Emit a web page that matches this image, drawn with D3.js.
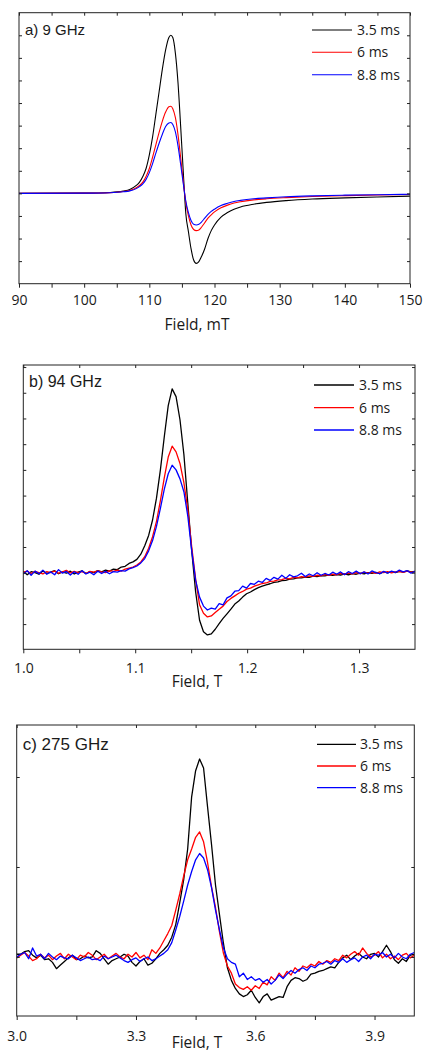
<!DOCTYPE html>
<html><head><meta charset="utf-8">
<script src="https://cdn.jsdelivr.net/npm/d3@7"></script>
<style>body{margin:0;background:#fff}svg{display:block}</style>
</head><body><svg id="chart" width="423" height="1052"></svg>
<script>
// ---------- DATA ----------
const seriesNames = ["3.5 ms", "6 ms", "8.8 ms"];

// a) 9 GHz  (field in mT)
const fieldA = [90,100,104,106,107,108,108.5,109,109.5,110,110.5,111,111.5,112,112.5,113,113.3,113.6,114,114.4,114.8,115.2,115.6,116,116.4,116.8,117.2,117.6,118,118.5,119,119.5,120,121,122,123,124,126,128,131,135,140,145,150];
const blackA = [0,0.01,0.04,0.1,0.17,0.35,0.5,0.75,1.1,1.7,2.5,3.5,4.5,5.5,6.35,6.9,7.0,6.9,6.2,4.9,3.0,1.0,-0.9,-1.7,-2.45,-2.95,-3.1,-3.02,-2.8,-2.45,-2.0,-1.65,-1.4,-1.05,-0.85,-0.7,-0.6,-0.48,-0.4,-0.32,-0.25,-0.2,-0.16,-0.12];
const redA   = [0,0.01,0.03,0.08,0.13,0.25,0.35,0.5,0.75,1.1,1.6,2.15,2.7,3.2,3.6,3.84,3.86,3.75,3.35,2.6,1.6,0.55,-0.4,-1.0,-1.4,-1.6,-1.65,-1.62,-1.5,-1.3,-1.1,-0.95,-0.82,-0.64,-0.52,-0.43,-0.37,-0.29,-0.24,-0.19,-0.14,-0.1,-0.07,-0.05];
const blueA  = [0,0.01,0.03,0.07,0.11,0.21,0.3,0.42,0.62,0.92,1.32,1.78,2.22,2.62,2.96,3.12,3.14,3.05,2.72,2.1,1.3,0.45,-0.35,-0.85,-1.2,-1.37,-1.4,-1.37,-1.27,-1.1,-0.93,-0.8,-0.7,-0.54,-0.44,-0.36,-0.31,-0.24,-0.2,-0.15,-0.11,-0.08,-0.06,-0.04];
const ticksA = [90,100,110,120,130,140,150];
const tickLabelsA = ["90","100","110","120","130","140","150"];
const minorTicksA = [95,105,115,125,135,145];

// b) 94 GHz  (field in T)
const fieldB = [1.0000,1.0035,1.0070,1.0105,1.0140,1.0175,1.0210,1.0245,1.0280,1.0315,
1.0350,1.0385,1.0420,1.0455,1.0490,1.0525,1.0560,1.0595,1.0630,1.0665,
1.0700,1.0735,1.0770,1.0805,1.0840,1.0875,1.0910,1.0945,1.0980,1.1015,
1.1050,1.1085,1.1120,1.1155,1.1190,1.1225,1.1260,1.1295,1.1330,1.1365,
1.1400,1.1435,1.1470,1.1505,1.1540,1.1575,1.1610,1.1645,1.1680,1.1715,
1.1750,1.1785,1.1820,1.1855,1.1890,1.1925,1.1960,1.1995,1.2030,1.2065,
1.2100,1.2135,1.2170,1.2205,1.2240,1.2275,1.2310,1.2345,1.2380,1.2415,
1.2450,1.2485,1.2520,1.2555,1.2590,1.2625,1.2660,1.2695,1.2730,1.2765,
1.2800,1.2835,1.2870,1.2905,1.2940,1.2975,1.3010,1.3045,1.3080,1.3115,
1.3150,1.3185,1.3220,1.3255,1.3290,1.3325,1.3360,1.3395,1.3430,1.3465,
1.3500];
const blackB = [0.05,-0.08,0.04,0.00,-0.06,0.07,-0.03,0.02,0.08,-0.04,
0.03,-0.02,0.06,-0.05,0.02,0.07,-0.03,0.04,0.00,0.08,
0.03,0.10,0.06,0.14,0.12,0.22,0.25,0.36,0.42,0.52,
0.72,1.05,1.45,2.05,2.90,4.00,5.30,6.50,7.15,6.85,
5.95,4.60,2.70,0.85,-0.75,-1.85,-2.30,-2.42,-2.38,-2.20,
-1.98,-1.78,-1.60,-1.42,-1.22,-1.10,-0.95,-0.82,-0.75,-0.66,
-0.58,-0.52,-0.47,-0.43,-0.38,-0.36,-0.31,-0.30,-0.25,-0.24,
-0.20,-0.20,-0.17,-0.18,-0.13,-0.15,-0.11,-0.12,-0.08,-0.10,
-0.07,-0.09,-0.05,-0.08,-0.04,-0.06,-0.02,-0.05,0.00,-0.03,
0.01,-0.04,0.03,-0.01,0.04,0.00,0.05,0.02,0.07,0.03,
0.05];
const redB = [0.02,0.06,-0.03,0.05,0.00,-0.05,0.04,0.00,0.06,-0.02,
0.03,0.09,-0.01,0.05,0.00,0.04,-0.03,0.05,0.02,0.07,
0.03,0.00,0.08,0.05,0.10,0.06,0.14,0.18,0.22,0.30,
0.42,0.62,0.95,1.40,2.00,2.80,3.70,4.50,4.92,4.70,
4.25,3.50,2.45,1.00,-0.25,-1.25,-1.58,-1.72,-1.68,-1.55,
-1.42,-1.30,-1.12,-1.00,-0.90,-0.80,-0.73,-0.64,-0.60,-0.52,
-0.47,-0.42,-0.40,-0.34,-0.33,-0.28,-0.27,-0.22,-0.24,-0.18,
-0.20,-0.15,-0.17,-0.12,-0.14,-0.10,-0.12,-0.07,-0.10,-0.06,
-0.08,-0.03,-0.06,-0.02,-0.05,0.00,-0.04,0.02,-0.02,0.01,
-0.03,0.03,0.00,0.04,-0.01,0.03,0.05,0.01,0.06,0.02,
0.03];
const blueB = [-0.05,0.08,-0.10,0.06,-0.04,0.10,-0.06,0.03,-0.08,0.12,
-0.02,0.05,-0.09,0.04,-0.06,0.08,-0.05,0.02,-0.08,0.06,
-0.03,0.05,-0.04,0.04,0.02,0.08,0.06,0.15,0.20,0.26,
0.38,0.55,0.85,1.25,1.80,2.50,3.25,3.85,4.18,4.00,
3.65,3.15,2.20,0.85,-0.30,-0.95,-1.30,-1.45,-1.38,-1.42,
-1.20,-1.25,-0.98,-0.90,-0.72,-0.70,-0.52,-0.60,-0.42,-0.45,
-0.33,-0.38,-0.22,-0.30,-0.18,-0.25,-0.10,-0.22,-0.08,-0.16,
-0.12,-0.02,-0.15,-0.05,-0.12,0.00,-0.10,-0.03,-0.09,0.02,
-0.06,0.03,-0.08,0.04,-0.03,0.06,-0.04,0.03,-0.05,0.07,
0.00,-0.04,0.05,-0.02,0.06,0.01,0.10,0.03,0.08,-0.02,
0.05];
const ticksB = [1.0,1.1,1.2,1.3];
const tickLabelsB = ["1.0","1.1","1.2","1.3"];
const minorTicksB = [1.05,1.15,1.25];

// c) 275 GHz  (field in T)
const fieldC = [3.00,3.01,3.02,3.03,3.04,3.05,3.06,3.07,3.08,3.09,
3.10,3.11,3.12,3.13,3.14,3.15,3.16,3.17,3.18,3.19,
3.20,3.21,3.22,3.23,3.24,3.25,3.26,3.27,3.28,3.29,
3.30,3.31,3.32,3.33,3.34,3.35,3.36,3.37,3.38,3.39,
3.40,3.41,3.42,3.43,3.44,3.45,3.46,3.47,3.48,3.49,
3.50,3.51,3.52,3.53,3.54,3.55,3.56,3.57,3.58,3.59,
3.60,3.61,3.62,3.63,3.64,3.65,3.66,3.67,3.68,3.69,
3.70,3.71,3.72,3.73,3.74,3.75,3.76,3.77,3.78,3.79,
3.80,3.81,3.82,3.83,3.84,3.85,3.86,3.87,3.88,3.89,
3.90,3.91,3.92,3.93,3.94,3.95,3.96,3.97,3.98,3.99,
4.00];
const blackC = [0.03,0.03,0.06,0.07,0.02,-0.01,0.02,-0.03,-0.02,-0.06,
-0.13,-0.09,-0.05,-0.01,0.02,-0.03,-0.02,0.01,-0.01,0.00,
0.07,0.04,-0.02,-0.08,-0.04,-0.02,0.00,0.03,0.01,-0.06,
-0.10,-0.05,-0.02,-0.09,-0.07,-0.02,0.04,0.08,0.13,0.22,
0.36,0.60,0.86,1.20,1.78,2.07,2.20,2.10,1.67,1.25,
0.80,0.47,0.15,-0.12,-0.26,-0.35,-0.41,-0.44,-0.42,-0.37,
-0.45,-0.51,-0.44,-0.41,-0.48,-0.46,-0.44,-0.45,-0.33,-0.26,
-0.23,-0.24,-0.27,-0.25,-0.19,-0.18,-0.16,-0.15,-0.13,-0.11,
-0.12,-0.06,-0.01,0.02,-0.03,0.01,0.04,0.00,-0.02,0.03,
0.04,0.00,0.06,0.13,0.06,-0.03,-0.07,-0.02,-0.05,0.02,
0.03];
const redC = [-0.01,0.02,0.05,0.01,-0.04,-0.02,0.03,-0.01,0.02,-0.03,
0.01,0.04,-0.02,0.03,0.00,-0.03,0.02,0.00,0.05,0.02,
-0.03,0.00,0.03,-0.02,0.01,0.04,0.00,-0.02,0.03,0.00,
0.05,-0.01,0.02,-0.03,0.08,0.04,0.10,0.18,0.26,0.35,
0.52,0.70,0.90,1.08,1.20,1.33,1.39,1.28,1.05,0.78,
0.55,0.28,0.04,-0.10,-0.18,-0.30,-0.34,-0.36,-0.33,-0.37,
-0.32,-0.35,-0.28,-0.31,-0.22,-0.26,-0.18,-0.23,-0.16,-0.20,
-0.12,-0.16,-0.10,-0.12,-0.08,-0.10,-0.05,-0.08,-0.04,-0.06,
-0.02,-0.04,0.02,-0.01,0.03,0.06,0.02,0.10,0.04,0.00,
0.02,0.06,-0.01,0.03,-0.02,0.01,-0.03,0.02,0.04,-0.01,
0.02];
const blueC = [0.00,0.03,0.05,-0.02,0.10,0.01,0.03,-0.02,0.04,0.00,
-0.03,0.01,-0.01,-0.02,0.02,-0.01,-0.04,-0.02,0.00,-0.03,
-0.02,-0.04,0.01,-0.02,0.00,0.02,-0.01,-0.04,-0.06,-0.03,
-0.01,-0.05,-0.02,0.00,-0.04,-0.02,0.01,0.04,0.08,0.16,
0.30,0.45,0.62,0.80,0.95,1.08,1.15,1.10,0.97,0.77,
0.52,0.30,0.10,-0.02,-0.06,-0.08,-0.22,-0.18,-0.25,-0.22,
-0.26,-0.24,-0.28,-0.25,-0.30,-0.26,-0.20,-0.24,-0.19,-0.15,
-0.18,-0.14,-0.12,-0.15,-0.10,-0.12,-0.08,-0.07,-0.05,-0.08,
-0.04,-0.06,-0.02,-0.06,-0.03,-0.01,-0.05,0.00,0.02,-0.02,
0.03,0.02,0.05,0.00,0.03,-0.01,0.04,0.00,-0.02,0.03,
0.05];
const ticksC = [3.0,3.3,3.6,3.9];
const tickLabelsC = ["3.0","3.3","3.6","3.9"];
const minorTicksC = [3.15,3.45,3.75];

// ---------- LAYOUT / STYLE ----------
const colors = ["#000000", "#ff0000", "#0000ff"];
const tickFont = "'Open Sans', sans-serif";
const titleFont = "'Liberation Sans', Arial, sans-serif";

const panels = [
  { field: fieldA, series: [blackA, redA, blueA], ticks: ticksA, labels: tickLabelsA, minor: minorTicksA,
    xDomain: [90, 150], yDomain: [-4, 8], yTicks: d3.range(-3, 8),
    left: 19, right: 410, top: 12.7, bottom: 283.7,
    title: "a) 9 GHz", titleX: 25, titleY: 35, titleSize: 15,
    legendX1: 312, legendX2: 352, legendY: [30, 52.3, 74.7], legendTextX: 357,
    tickLabelY: 305, axisTitle: "Field, mT", axisTitleY: 329.5, lineWidth: 1.1, curve: d3.curveMonotoneX },
  { field: fieldB, series: [blackB, redB, blueB], ticks: ticksB, labels: tickLabelsB, minor: minorTicksB,
    xDomain: [1.0, 1.35], yDomain: [-2.98, 8.08], yTicks: d3.range(-2, 9),
    left: 23.3, right: 415, top: 365, bottom: 649.3,
    title: "b) 94 GHz", titleX: 29, titleY: 386.5, titleSize: 16,
    legendX1: 314, legendX2: 354, legendY: [385, 407.7, 430], legendTextX: 359,
    tickLabelY: 673.5, axisTitle: "Field, T", axisTitleY: 686.5, lineWidth: 1.3, curve: d3.curveLinear },
  { field: fieldC, series: [blackC, redC, blueC], ticks: ticksC, labels: tickLabelsC, minor: minorTicksC,
    xDomain: [3.0, 4.0], yDomain: [-0.656, 2.578], yTicks: [0, 1, 2],
    left: 16.7, right: 414.3, top: 725, bottom: 1016,
    title: "c) 275 GHz", titleX: 22.7, titleY: 750, titleSize: 17,
    legendX1: 317, legendX2: 356, legendY: [744.3, 766, 787.7], legendTextX: 360,
    tickLabelY: 1040.7, axisTitle: "Field, T", axisTitleY: 1047.5, lineWidth: 1.3, curve: d3.curveLinear }
];

const svg = d3.select("#chart");
svg.append("rect").attr("width", 423).attr("height", 1052).attr("fill", "#fff");

panels.forEach((p, pi) => {
  const x = d3.scaleLinear().domain(p.xDomain).range([p.left, p.right]);
  const y = d3.scaleLinear().domain(p.yDomain).range([p.bottom, p.top]);
  const g = svg.append("g");

  const clipId = "clip" + pi;
  svg.append("clipPath").attr("id", clipId).append("rect")
    .attr("x", p.left).attr("y", p.top).attr("width", p.right - p.left).attr("height", p.bottom - p.top);

  // curves (drawn first: blue, red, black order like reference? black below colored)
  const line = d3.line().curve(p.curve).x(d => x(d[0])).y(d => y(d[1]));
  [0, 1, 2].forEach(si => {
    const pts = p.field.map((f, i) => [f, p.series[si][i]]);
    g.append("path").attr("d", line(pts)).attr("fill", "none")
      .attr("stroke", colors[si]).attr("stroke-width", p.lineWidth)
      .attr("stroke-linejoin", "round").attr("clip-path", `url(#${clipId})`);
  });

  // axes
  const styleAxis = sel => { sel.select(".domain").remove(); sel.selectAll("line").attr("stroke", "#222").attr("stroke-width", 1); };
  const allX = p.ticks.concat(p.minor);
  g.append("g").attr("transform", `translate(0,${p.bottom})`)
    .call(d3.axisBottom(x).tickValues(allX).tickSize(4).tickFormat(""))
    .call(styleAxis);
  g.append("g").attr("transform", `translate(0,${p.top})`)
    .call(d3.axisTop(x).tickValues(allX).tickSize(-3).tickFormat(""))
    .call(styleAxis);
  g.append("g").attr("transform", `translate(${p.left},0)`)
    .call(d3.axisLeft(y).tickValues(p.yTicks).tickSize(-3).tickFormat(""))
    .call(styleAxis);
  g.append("g").attr("transform", `translate(${p.right},0)`)
    .call(d3.axisRight(y).tickValues(p.yTicks).tickSize(-3).tickFormat(""))
    .call(styleAxis);

  // major tick labels
  const lab = g.append("g").attr("transform", `translate(0,${p.bottom})`)
    .call(d3.axisBottom(x).tickValues(p.ticks).tickSize(0).tickFormat((d, i) => p.labels[i]));
  lab.select(".domain").remove();
  lab.selectAll("text").attr("y", p.tickLabelY - p.bottom).attr("dy", null)
    .attr("font-family", tickFont).attr("font-size", 14).attr("fill", "#1a1a1a");

  // frame
  g.append("rect").attr("x", p.left).attr("y", p.top)
    .attr("width", p.right - p.left).attr("height", p.bottom - p.top)
    .attr("fill", "none").attr("stroke", "#222").attr("stroke-width", 1);

  // panel title
  g.append("text").attr("x", p.titleX).attr("y", p.titleY).text(p.title)
    .attr("font-family", titleFont).attr("font-size", p.titleSize).attr("fill", "#1a1a1a");

  // legend
  seriesNames.forEach((name, si) => {
    g.append("line").attr("x1", p.legendX1).attr("x2", p.legendX2)
      .attr("y1", p.legendY[si]).attr("y2", p.legendY[si])
      .attr("stroke", colors[si]).attr("stroke-width", p.lineWidth);
    g.append("text").attr("x", p.legendTextX).attr("y", p.legendY[si] + 5).text(name)
      .attr("font-family", tickFont).attr("font-size", 14).attr("fill", "#1a1a1a");
  });

  // axis title
  g.append("text").attr("x", 197).attr("y", p.axisTitleY).attr("text-anchor", "middle")
    .text(p.axisTitle).attr("font-family", tickFont).attr("font-size", 15.5).attr("fill", "#1a1a1a");
});
</script></body></html>
